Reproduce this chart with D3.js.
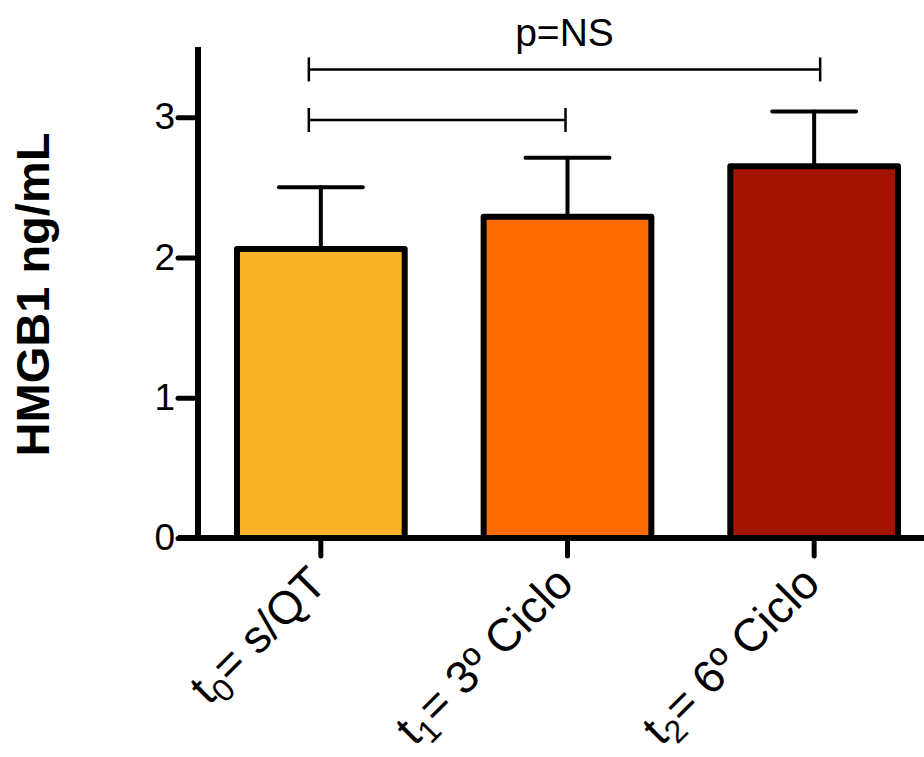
<!DOCTYPE html>
<html>
<head>
<meta charset="utf-8">
<script src="https://cdnjs.cloudflare.com/ajax/libs/d3/7.8.5/d3.min.js"></script>
<style>
    body { margin: 0; background: #fff; }
    text { font-family: "Liberation Sans", Arial, sans-serif; }
</style>
</head>
<body>
<div id="chart"></div>
<script>
// data
var groups = ["t0", "t1", "t2"];
var labelMain = ["t", "t", "t"];
var labelSub = ["0", "1", "2"];
var labelRest = ["= s/QT", "= 3º Ciclo", "= 6º Ciclo"];
var means = [2.06, 2.29, 2.65];
var errTop = [2.50, 2.71, 3.04];
var barColors = ["#fbb429", "#ff6d00", "#a21400"];
var yTicks = [0, 1, 2, 3];
// significance brackets: [from, to, y value]
var brackets = [["t0", "t2", 3.34], ["t0", "t1", 2.98]];
var sigText = "p=NS";

var width = 924,
    height = 757;
var margin = {top: 47, right: -13, bottom: 219, left: 198};

var svg = d3.select("#chart").append("svg")
    .attr("width", width)
    .attr("height", height);

var x = d3.scaleBand()
    .domain(groups)
    .range([margin.left, width - margin.right])
    .paddingInner(0.32)
    .paddingOuter(0.158);

var y = d3.scaleLinear()
    .domain([0, 3.5])
    .range([height - margin.bottom, margin.top]);

var base = y(0);

// bars
svg.selectAll(".bar")
    .data(groups)
    .enter().append("rect")
    .attr("class", "bar")
    .attr("x", function(d) { return x(d); })
    .attr("width", x.bandwidth())
    .attr("y", function(d, i) { return y(means[i]); })
    .attr("height", function(d, i) { return base - y(means[i]); })
    .attr("fill", function(d, i) { return barColors[i]; })
    .attr("stroke", "#000")
    .attr("stroke-width", 6)
    .attr("stroke-linejoin", "round");

// error bars (upper only)
var capHalf = x.bandwidth() * 0.25;
var err = svg.selectAll(".err")
    .data(groups)
    .enter().append("g")
    .attr("class", "err")
    .attr("stroke", "#000")
    .attr("stroke-width", 4)
    .attr("stroke-linecap", "round");
err.append("line")
    .attr("x1", function(d) { return x(d) + x.bandwidth() / 2; })
    .attr("x2", function(d) { return x(d) + x.bandwidth() / 2; })
    .attr("y1", function(d, i) { return y(means[i]) - 3; })
    .attr("y2", function(d, i) { return y(errTop[i]); });
err.append("line")
    .attr("x1", function(d) { return x(d) + x.bandwidth() / 2 - capHalf; })
    .attr("x2", function(d) { return x(d) + x.bandwidth() / 2 + capHalf; })
    .attr("y1", function(d, i) { return y(errTop[i]); })
    .attr("y2", function(d, i) { return y(errTop[i]); });

// y axis
var yAxis = svg.append("g")
    .attr("transform", "translate(" + margin.left + ",0)")
    .call(d3.axisLeft(y).tickValues(yTicks).tickFormat(d3.format("d"))
        .tickSize(20).tickSizeOuter(0).tickPadding(3));
yAxis.select(".domain")
    .attr("stroke-width", 6)
    .attr("d", "M0," + (base + 3) + "V" + margin.top);
yAxis.selectAll(".tick line")
    .attr("stroke-width", 5)
    .attr("stroke-linecap", "round");
yAxis.selectAll(".tick text")
    .attr("font-size", 37)
    .attr("fill", "#000")
    .style("font-family", "'Liberation Sans', Arial, sans-serif");

// x axis
var xAxis = svg.append("g")
    .attr("transform", "translate(0," + base + ")")
    .call(d3.axisBottom(x).tickSize(18).tickSizeOuter(0).tickFormat(""));
xAxis.select(".domain")
    .attr("stroke-width", 6)
    .attr("d", "M" + (margin.left - 20) + ",0H" + width);
xAxis.selectAll(".tick line")
    .attr("stroke-width", 5)
    .attr("stroke-linecap", "round");

var xl = xAxis.selectAll(".tick").append("text")
    .attr("fill", "#000")
    .attr("font-size", 46)
    .attr("text-anchor", "end")
    .attr("transform", "translate(8,48) rotate(-45)")
    .style("font-family", "'Liberation Sans', Arial, sans-serif");
xl.append("tspan").text(function(d, i) { return labelMain[i]; });
xl.append("tspan")
    .attr("font-size", 32)
    .attr("dy", 10)
    .text(function(d, i) { return labelSub[i]; });
xl.append("tspan")
    .attr("dy", -10)
    .text(function(d, i) { return labelRest[i]; });

// y title
svg.append("text")
    .attr("transform", "translate(49," + (y(1.75) + 2) + ") rotate(-90)")
    .attr("text-anchor", "middle")
    .attr("font-size", 47)
    .attr("font-weight", "bold")
    .text("HMGB1 ng/mL");

// significance brackets
var br = svg.selectAll(".bracket")
    .data(brackets)
    .enter().append("g")
    .attr("class", "bracket")
    .attr("stroke", "#000")
    .attr("stroke-width", 2.5);
function bx1(d) { return x(d[0]) + x.bandwidth() / 2 - 12; }
function bx2(d) { return x(d[1]) + x.bandwidth() / 2 + (d[1] === "t2" ? 6 : -2); }
br.append("line")
    .attr("x1", bx1).attr("x2", bx2)
    .attr("y1", function(d) { return y(d[2]); })
    .attr("y2", function(d) { return y(d[2]); });
br.append("line")
    .attr("x1", bx1).attr("x2", bx1)
    .attr("y1", function(d) { return y(d[2]) - 12; })
    .attr("y2", function(d) { return y(d[2]) + 12; });
br.append("line")
    .attr("x1", bx2).attr("x2", bx2)
    .attr("y1", function(d) { return y(d[2]) - 12; })
    .attr("y2", function(d) { return y(d[2]) + 12; });

svg.append("text")
    .attr("x", (bx1(brackets[0]) + bx2(brackets[0])) / 2)
    .attr("y", y(brackets[0][2]) - 23)
    .attr("text-anchor", "middle")
    .attr("font-size", 39)
    .text(sigText);
</script>
</body>
</html>
